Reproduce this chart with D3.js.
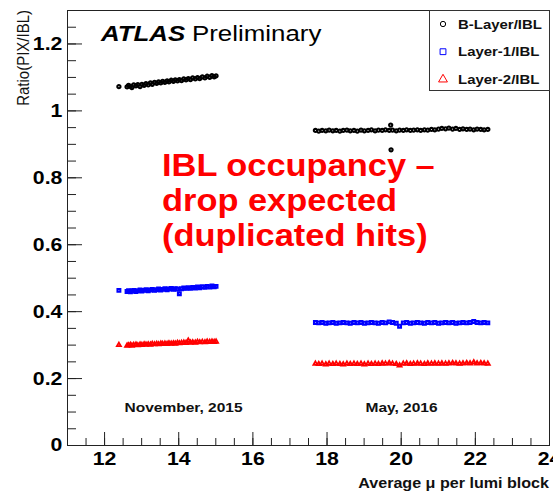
<!DOCTYPE html>
<html>
<head>
<meta charset="utf-8">
<script src="https://cdn.jsdelivr.net/npm/d3@7"></script>
<style>
body { margin: 0; background: #fff; }
text { font-family: "Liberation Sans", Arial, sans-serif; }
</style>
</head>
<body>
<div class="view"></div>
<script>
// November 2015 run: average mu per lumi block and ratios
var novMu = [12.40, 12.62, 12.66, 12.71, 12.75, 12.80, 12.86, 12.91, 12.97, 13.02, 13.08, 13.13, 13.19, 13.25, 13.30,
  13.36, 13.42, 13.47, 13.53, 13.58, 13.64, 13.70, 13.75, 13.81, 13.87, 13.92, 13.98, 14.03, 14.09, 14.15,
  14.21, 14.27, 14.33, 14.39, 14.46, 14.52, 14.58, 14.65, 14.72, 14.78, 14.85, 14.91, 14.97, 15.02];
var novBLayer = [1.071, 1.070, 1.075, 1.072, 1.068, 1.076, 1.073, 1.077, 1.071, 1.078, 1.075, 1.080, 1.076, 1.082, 1.078,
  1.084, 1.081, 1.085, 1.082, 1.087, 1.084, 1.088, 1.085, 1.090, 1.087, 1.091, 1.088, 1.092, 1.089, 1.094,
  1.091, 1.095, 1.092, 1.097, 1.094, 1.098, 1.095, 1.100, 1.097, 1.102, 1.099, 1.104, 1.100, 1.103];
var novLayer1 = [0.462, 0.459, 0.461, 0.458, 0.460, 0.462, 0.459, 0.461, 0.463, 0.460, 0.462, 0.464, 0.461, 0.463, 0.465,
  0.462, 0.464, 0.466, 0.463, 0.465, 0.467, 0.464, 0.466, 0.468, 0.465, 0.467, 0.466, 0.452, 0.467, 0.469,
  0.468, 0.470, 0.468, 0.471, 0.469, 0.472, 0.470, 0.473, 0.471, 0.474, 0.472, 0.475, 0.473, 0.474];
var novLayer2 = [0.299, 0.297, 0.298, 0.299, 0.297, 0.299, 0.300, 0.298, 0.300, 0.299, 0.301, 0.300, 0.301, 0.300, 0.302,
  0.301, 0.302, 0.301, 0.303, 0.302, 0.303, 0.302, 0.304, 0.303, 0.304, 0.303, 0.305, 0.304, 0.305, 0.306,
  0.305, 0.312, 0.306, 0.307, 0.306, 0.308, 0.307, 0.308, 0.307, 0.309, 0.308, 0.309, 0.308, 0.309];

// May 2016 run
var mayMu = [17.70, 17.79, 17.88, 17.98, 18.07, 18.17, 18.26, 18.36, 18.45, 18.55, 18.64, 18.74, 18.83, 18.93, 19.02,
  19.12, 19.21, 19.31, 19.40, 19.50, 19.59, 19.69, 19.78, 19.88, 19.97, 20.07, 20.16, 20.26, 20.35, 20.45,
  20.54, 20.64, 20.73, 20.83, 20.92, 21.02, 21.11, 21.21, 21.30, 21.40, 21.49, 21.59, 21.68, 21.78, 21.87,
  21.97, 22.06, 22.16, 22.25, 22.35];
var mayBLayer = [0.940, 0.938, 0.940, 0.939, 0.941, 0.939, 0.940, 0.938, 0.940, 0.941, 0.939, 0.940, 0.938, 0.941, 0.939,
  0.940, 0.942, 0.939, 0.941, 0.940, 0.942, 0.940, 0.941, 0.939, 0.941, 0.940, 0.942, 0.940, 0.941, 0.942,
  0.940, 0.942, 0.941, 0.943, 0.942, 0.944, 0.946, 0.945, 0.947, 0.944, 0.946, 0.943, 0.945, 0.943, 0.944,
  0.942, 0.944, 0.943, 0.942, 0.943];
var mayLayer1 = [0.366, 0.365, 0.366, 0.364, 0.365, 0.366, 0.364, 0.365, 0.366, 0.365, 0.364, 0.366, 0.365, 0.366, 0.364,
  0.365, 0.366, 0.365, 0.364, 0.366, 0.365, 0.368, 0.366, 0.364, 0.355, 0.365, 0.366, 0.364, 0.365, 0.366,
  0.365, 0.364, 0.366, 0.365, 0.366, 0.364, 0.365, 0.366, 0.365, 0.366, 0.364, 0.365, 0.366, 0.365, 0.366,
  0.369, 0.366, 0.365, 0.366, 0.365];
var mayLayer2 = [0.243, 0.242, 0.243, 0.241, 0.243, 0.242, 0.243, 0.242, 0.241, 0.243, 0.242, 0.243, 0.242, 0.243, 0.241,
  0.243, 0.242, 0.243, 0.242, 0.244, 0.243, 0.245, 0.243, 0.242, 0.238, 0.243, 0.244, 0.242, 0.243, 0.244,
  0.243, 0.242, 0.244, 0.243, 0.244, 0.243, 0.244, 0.243, 0.244, 0.245, 0.244, 0.243, 0.244, 0.245, 0.244,
  0.247, 0.244, 0.245, 0.244, 0.243];
var mayBLayerOutliers = [[19.73, 0.956], [19.74, 0.882]];

var seriesNames = ["B-Layer/IBL", "Layer-1/IBL", "Layer-2/IBL"];
var seriesColors = ["#000000", "#0000ff", "#ff0000"];
var seriesSymbols = [d3.symbolCircle, d3.symbolSquare, d3.symbolTriangle];
var periodLabels = ["November, 2015", "May, 2016"];
var periodLabelMu = [12.55, 19.05];
var xTicks = [12, 14, 16, 18, 20, 22, 24];
var yTicks = [0, 0.2, 0.4, 0.6, 0.8, 1.0, 1.2];

var W = 553, H = 491;
var margin = { top: 10, right: 4, bottom: 46, left: 67 };
var width = W - margin.left - margin.right;
var height = H - margin.top - margin.bottom;
var SX = 1.15; // the original is a little wider than tall

var root = d3.select('.view')
  .append('svg')
  .attr('width', W)
  .attr('height', H);

var svg = root.append('g')
  .attr('transform', 'translate(' + margin.left + ',' + margin.top + ')');

var x = d3.scaleLinear().domain([11, 24]).range([0, width]);
var y = d3.scaleLinear().domain([0, 1.3]).range([height, 0]);

// minor ticks
svg.append("g")
  .attr("transform", "translate(0," + height + ")")
  .call(d3.axisBottom(x).tickValues(d3.range(11, 24.01, 0.5)).tickSizeInner(-7).tickSizeOuter(0).tickFormat(""))
  .call(function(g) { g.select(".domain").remove(); });
svg.append("g")
  .call(d3.axisLeft(y).tickValues(d3.range(0, 1.301, 0.05)).tickSizeInner(-9).tickSizeOuter(0).tickFormat(""))
  .call(function(g) { g.select(".domain").remove(); });

// major ticks
var xAxis = svg.append("g")
  .attr("transform", "translate(0," + height + ")")
  .call(d3.axisBottom(x).tickValues(xTicks).tickSizeInner(-13).tickSizeOuter(0).tickPadding(7).tickFormat(d3.format("~g")));
var yAxis = svg.append("g")
  .call(d3.axisLeft(y).tickValues(yTicks).tickSizeInner(-15).tickSizeOuter(0).tickPadding(4).tickFormat(d3.format("~g")));

[xAxis, yAxis].forEach(function(g) {
  g.select(".domain").remove();
  g.selectAll("text")
    .attr("fill", "#000")
    .attr("font-size", "18.5px")
    .attr("font-weight", "bold")
    .attr("font-family", '"Liberation Sans", Arial, sans-serif')
    .attr("transform", "scale(" + SX + ",1)");
});
svg.selectAll(".tick line").attr("stroke", "#222");

// data points, drawn thick so the dense lumi blocks merge into a band
var markerSize = [8, 8, 7];
var markerStroke = [2.1, 2.1, 1.8];
function drawSeries(mu, vals, k) {
  var pts = mu.map(function(m, i) { return [m, vals[i]]; });
  svg.append("g").selectAll("path")
    .data(pts)
    .enter()
    .append("path")
    .attr("d", d3.symbol().type(seriesSymbols[k]).size(markerSize[k]))
    .attr("transform", function(d) { return "translate(" + x(d[0]) + "," + y(d[1]) + ")"; })
    .attr("fill", "none")
    .attr("stroke", seriesColors[k])
    .attr("stroke-width", markerStroke[k]);
}
drawSeries(novMu, novBLayer, 0);
drawSeries(novMu, novLayer1, 1);
drawSeries(novMu, novLayer2, 2);
drawSeries(mayMu, mayBLayer, 0);
drawSeries(mayMu, mayLayer1, 1);
drawSeries(mayMu, mayLayer2, 2);
drawSeries(mayBLayerOutliers.map(function(d) { return d[0]; }), mayBLayerOutliers.map(function(d) { return d[1]; }), 0);

// frame
svg.append("rect")
  .attr("x", 0.5)
  .attr("y", 0.5)
  .attr("width", width)
  .attr("height", height)
  .attr("fill", "none")
  .attr("stroke", "#222")
  .attr("stroke-width", 1);

// period labels
svg.selectAll(".period")
  .data(periodLabels)
  .enter()
  .append("text")
  .attr("class", "period")
  .attr("transform", function(d, i) { return "translate(" + x(periodLabelMu[i]) + "," + (412 - margin.top) + ") scale(" + SX + ",1)"; })
  .attr("font-size", "13.5px")
  .attr("font-weight", "bold")
  .attr("fill", "#111")
  .text(function(d) { return d; });

// ATLAS label
root.append("text")
  .attr("transform", "translate(101,41) scale(" + SX + ",1)")
  .attr("font-size", "22.5px")
  .attr("font-weight", "bold")
  .attr("font-style", "italic")
  .text("ATLAS");
root.append("text")
  .attr("transform", "translate(192,41) scale(" + SX + ",1)")
  .attr("font-size", "22.5px")
  .text("Preliminary");

// red annotation
var note = ["IBL occupancy \u2013", "drop expected", "(duplicated hits)"];
root.selectAll(".note")
  .data(note)
  .enter()
  .append("text")
  .attr("class", "note")
  .attr("transform", function(d, i) { return "translate(162," + (176 + i * 35) + ") scale(1.11,1)"; })
  .attr("font-size", "31px")
  .attr("font-weight", "bold")
  .attr("fill", "#ff0000")
  .text(function(d) { return d; });

// axis titles
root.append("text")
  .attr("transform", "translate(549,488) scale(" + SX + ",1)")
  .attr("text-anchor", "end")
  .attr("font-size", "14px")
  .attr("font-weight", "bold")
  .attr("fill", "#111")
  .text("Average \u03bc per lumi block");
root.append("text")
  .attr("transform", "translate(29,10) scale(" + SX + ",1) rotate(-90)")
  .attr("text-anchor", "end")
  .attr("font-size", "15px")
  .attr("fill", "#111")
  .text("Ratio(PIX/IBL)");

// legend
var legend = root.append("g");
legend.append("rect")
  .attr("x", 429.5)
  .attr("y", 10.5)
  .attr("width", 120)
  .attr("height", 80)
  .attr("fill", "#fff")
  .attr("stroke", "#333");
var rows = legend.selectAll(".row")
  .data(seriesNames)
  .enter()
  .append("g")
  .attr("class", "row")
  .attr("transform", function(d, i) { return "translate(443," + (24 + i * 27.7) + ")"; });
rows.append("path")
  .attr("d", function(d, i) { return d3.symbol().type(seriesSymbols[i]).size(i == 0 ? 22 : 34)(); })
  .attr("fill", "none")
  .attr("stroke", function(d, i) { return seriesColors[i]; })
  .attr("stroke-width", 1);
rows.append("text")
  .attr("transform", "translate(15,4.6) scale(" + SX + ",1)")
  .attr("font-size", "13px")
  .attr("font-weight", "bold")
  .attr("fill", "#111")
  .text(function(d) { return d; });
</script>
</body>
</html>
